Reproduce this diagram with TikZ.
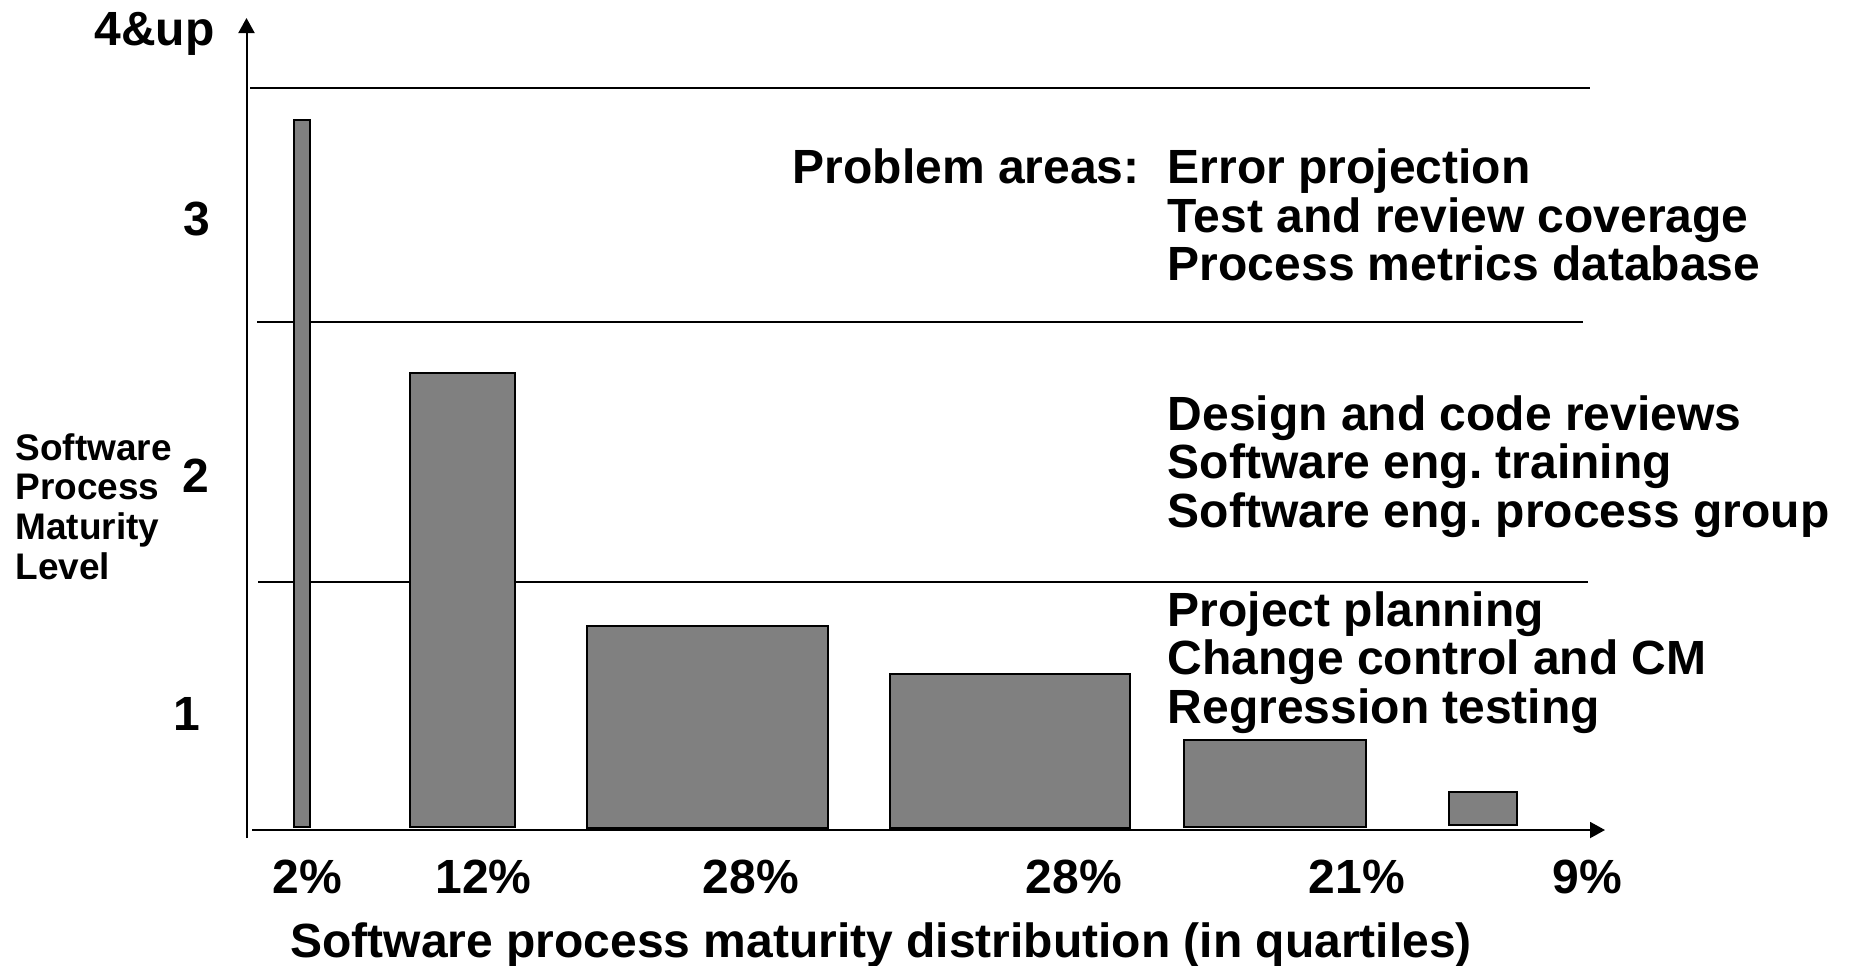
\documentclass[tikz,border=0pt]{standalone}
\usepackage{fontspec}
\setmainfont{Liberation Sans}
\usetikzlibrary{arrows.meta}
\definecolor{barfill}{HTML}{808080}
\frenchspacing
\tikzset{
  bigtext/.style={inner sep=0pt, font=\bfseries\fontsize{24pt}{24.25pt}\selectfont},
  smalltext/.style={inner sep=0pt, align=left, font=\bfseries\fontsize{18.5pt}{19.75pt}\selectfont},
  bar/.style={draw=black, fill=barfill, line width=1.2pt},
  rule/.style={draw=black, line width=1pt},
  axis/.style={draw=black, line width=1pt, -{Triangle[length=7.5pt,width=8pt]}}
}
\begin{document}
\begin{tikzpicture}[x=0.5pt,y=-0.5pt]
\useasboundingbox (0,0) rectangle (1850,965);

% axes
\coordinate (ybot) at (246.5,838);
\coordinate (ytop) at (246.5,18);
\coordinate (xleft) at (252,830);
\coordinate (xright) at (1605,830);
\draw[axis] (ybot) -- (ytop);
\draw[axis] (xleft) -- (xright);

% level boundaries
\coordinate (l1a) at (250,87.5);  \coordinate (l1b) at (1590,87.5);
\coordinate (l2a) at (257,322);   \coordinate (l2b) at (1583,322);
\coordinate (l3a) at (258,582);   \coordinate (l3b) at (1588,582);
\draw[rule] (l1a) -- (l1b);
\draw[rule] (l2a) -- (l2b);
\draw[rule] (l3a) -- (l3b);

% distribution bars
\draw[bar] (294,827) rectangle (310,120);
\draw[bar] (410,827) rectangle (515,373);
\draw[bar] (587,828) rectangle (828,626);
\draw[bar] (890,828) rectangle (1130,674);
\draw[bar] (1184,827) rectangle (1366,740);
\draw[bar] (1449,825) rectangle (1517,792);

% level labels
\node[bigtext, anchor=base east] (lv4) at (215,45) {4\&up};
\node[bigtext, anchor=base east] (lv3) at (211,235) {3};
\node[bigtext, anchor=base east] (lv2) at (210,492) {2};
\node[bigtext, anchor=base east] (lv1) at (201,730) {1};

\node[smalltext, anchor=base west] (yt1) at (15,460) {Software};
\node[smalltext, anchor=base west] (yt2) at (15,499.5) {Process};
\node[smalltext, anchor=base west] (yt3) at (15,539.5) {Maturity};
\node[smalltext, anchor=base west] (yt4) at (15,579.5) {Level};

% percentages
\node[bigtext, anchor=base] (p1) at (307,893) {2\%};
\node[bigtext, anchor=base] (p2) at (483.5,893) {12\%};
\node[bigtext, anchor=base] (p3) at (751,893) {28\%};
\node[bigtext, anchor=base] (p4) at (1074,893) {28\%};
\node[bigtext, anchor=base] (p5) at (1357,893) {21\%};
\node[bigtext, anchor=base] (p6) at (1587,893) {9\%};

\node[bigtext, anchor=base west] (cap) at (290,957)
  {Software process maturity distribution (in quartiles)};

% problem areas
\node[bigtext, anchor=base west] (pa) at (792.5,183.5) {Problem areas:};
\node[bigtext, anchor=base west] (a1) at (1167.5,183.5) {Error projection};
\node[bigtext, anchor=base west] (a2) at (1167.5,232) {Test and review coverage};
\node[bigtext, anchor=base west] (a3) at (1167.5,280.5) {Process metrics database};

\node[bigtext, anchor=base west] (b1) at (1167.5,430) {Design and code reviews};
\node[bigtext, anchor=base west] (b2) at (1167.5,478.5) {Software eng. training};
\node[bigtext, anchor=base west] (b3) at (1167.5,527) {Software eng. process group};

\node[bigtext, anchor=base west] (c1) at (1167.5,626) {Project planning};
\node[bigtext, anchor=base west] (c2) at (1167.5,674.5) {Change control and CM};
\node[bigtext, anchor=base west] (c3) at (1167.5,723) {Regression testing};
\end{tikzpicture}
\end{document}
